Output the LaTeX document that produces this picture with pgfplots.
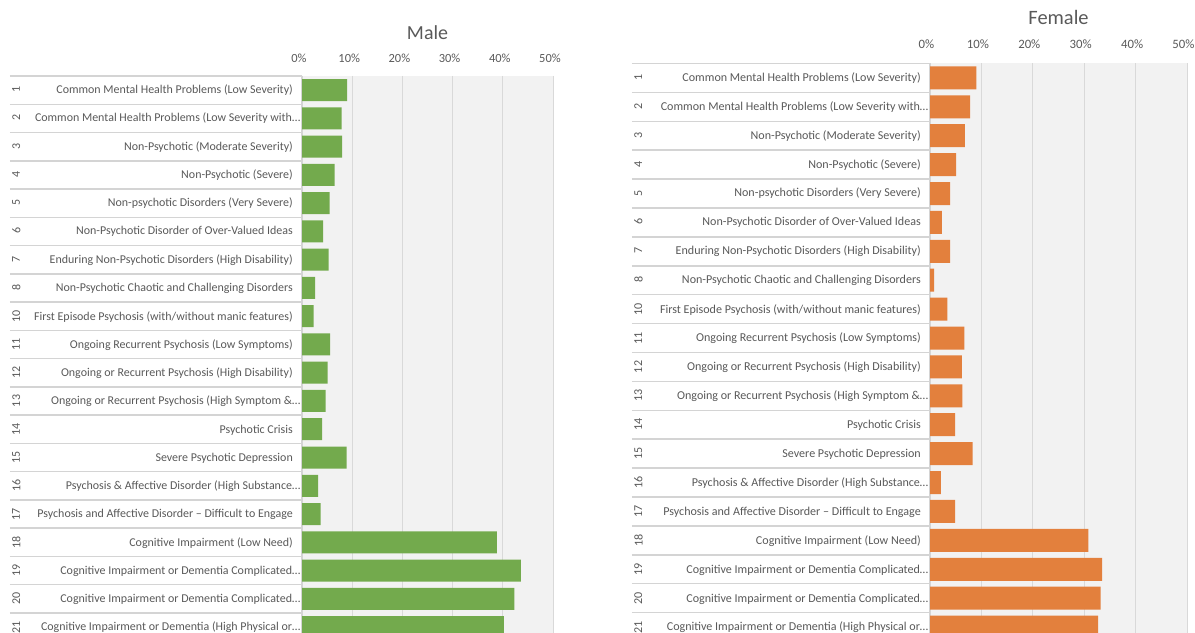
\documentclass[border=0pt]{standalone}
\usepackage{pgfplots}
\pgfplotsset{compat=1.18}
\usepackage{fontspec}
\setmainfont{Carlito}
\usepackage{graphicx}
\definecolor{mgreen}{HTML}{73AA4D}
\definecolor{forange}{HTML}{E3803D}
\definecolor{bggray}{HTML}{F2F2F2}
\definecolor{gridgray}{HTML}{D9D9D9}
\definecolor{sepgray}{HTML}{D4D4D4}
\definecolor{txtgray}{HTML}{595959}
\newcommand{\labw}{291bp}
\newcommand{\labl}{1.5bp}
\newcommand{\lab}[3]{\makebox[\labw][l]{\hspace{\labl}\rotatebox[origin=c]{90}{#1}\hfill #2\hspace{#3}}}
\newcommand{\catlabels}{%
{\lab{1}{Common Mental Health Problems (Low Severity)}{9bp}},
{\lab{2}{Common Mental Health Problems (Low Severity with\ldots}{1.5bp}},
{\lab{3}{Non-Psychotic (Moderate Severity)}{9bp}},
{\lab{4}{Non-Psychotic (Severe)}{9bp}},
{\lab{5}{Non-psychotic Disorders (Very Severe)}{9bp}},
{\lab{6}{Non-Psychotic Disorder of Over-Valued Ideas}{9bp}},
{\lab{7}{Enduring Non-Psychotic Disorders (High Disability)}{9bp}},
{\lab{8}{Non-Psychotic Chaotic and Challenging Disorders}{9bp}},
{\lab{10}{First Episode Psychosis (with/without manic features)}{9bp}},
{\lab{11}{Ongoing Recurrent Psychosis (Low Symptoms)}{9bp}},
{\lab{12}{Ongoing or Recurrent Psychosis (High Disability)}{9bp}},
{\lab{13}{Ongoing or Recurrent Psychosis (High Symptom \&\ldots}{1.5bp}},
{\lab{14}{Psychotic Crisis}{9bp}},
{\lab{15}{Severe Psychotic Depression}{9bp}},
{\lab{16}{Psychosis \& Affective Disorder (High Substance\ldots}{1.5bp}},
{\lab{17}{Psychosis and Affective Disorder – Difficult to Engage}{9bp}},
{\lab{18}{Cognitive Impairment (Low Need)}{9bp}},
{\lab{19}{Cognitive Impairment or Dementia Complicated\ldots}{1.5bp}},
{\lab{20}{Cognitive Impairment or Dementia Complicated\ldots}{1.5bp}},
{\lab{21}{Cognitive Impairment or Dementia (High Physical or\ldots}{1.5bp}}}
\pgfplotsset{
  panel/.style={
    scale only axis,
    xbar, bar shift=0pt,
    xmin=0, xmax=50, ymin=0.5, ymax=20.5,
    y dir=reverse,
    enlargelimits=false,
    axis background/.style={fill=bggray},
    separate axis lines,
    axis x line*=top, axis y line*=left,
    x axis line style={draw=none},
    y axis line style={draw=sepgray, line width=1.5bp},
    xtick={0,10,20,30,40,50},
    xticklabels={0\%,10\%,20\%,30\%,40\%,50\%},
    major tick length=0pt,
    xmajorgrids,
    major grid style={gridgray, line width=0.8bp},
    ytick={1,...,20},
    minor ytick={0.5,1.5,...,20.5},
    tick align=outside,
    minor y tick style={sepgray, line width=1.5bp},
    yticklabel style={anchor=east, inner sep=0pt, text=txtgray},
    xticklabel style={anchor=center, text=txtgray},
    title style={at={(0.5,1)}, anchor=center, text=txtgray},
  }
}
\begin{document}
\begin{tikzpicture}[x=1bp,y=1bp]
\useasboundingbox (0,0) rectangle (1195,633);
\clip (0,0) rectangle (1195,633);
\renewcommand{\labw}{291bp}
\renewcommand{\labl}{1.5bp}
\begin{axis}[panel,
  at={(302bp,557bp)}, anchor=north west,
  width=251bp, height=565.2bp,
  bar width=22bp,
  minor tick length=292bp,
  yticklabels/.expand once={\catlabels},
  yticklabel style={font=\fontsize{12}{14}\selectfont},
  xticklabel style={font=\fontsize{12.5}{15}\selectfont, yshift=18bp, xshift=-3bp},
  title={Male},
  title style={font=\fontsize{20}{24}\selectfont, yshift=37bp},
]
\addplot[fill=mgreen, draw=none] coordinates {
(9.0,1) (7.9,2) (8.0,3) (6.5,4) (5.5,5) (4.2,6) (5.3,7) (2.6,8) (2.3,9) (5.6,10)
(5.1,11) (4.7,12) (4.0,13) (8.9,14) (3.2,15) (3.7,16) (38.8,17) (43.6,18) (42.3,19) (40.2,20)};
\end{axis}
\renewcommand{\labw}{298bp}
\renewcommand{\labl}{2.5bp}
\begin{axis}[panel,
  at={(930bp,569.5bp)}, anchor=north west,
  width=257bp, height=578bp,
  bar width=23bp,
  minor tick length=298bp,
  yticklabels/.expand once={\catlabels},
  yticklabel style={font=\fontsize{12.1}{14}\selectfont},
  xticklabel style={font=\fontsize{12.8}{15}\selectfont, yshift=19.5bp, xshift=-3.5bp},
  title={Female},
  title style={font=\fontsize{20.5}{24}\selectfont, yshift=40bp},
]
\addplot[fill=forange, draw=none] coordinates {
(9.0,1) (7.8,2) (6.8,3) (5.1,4) (3.9,5) (2.3,6) (3.9,7) (0.8,8) (3.4,9) (6.7,10)
(6.2,11) (6.3,12) (4.9,13) (8.3,14) (2.1,15) (4.9,16) (30.8,17) (33.5,18) (33.2,19) (32.7,20)};
\end{axis}
\end{tikzpicture}
\end{document}
